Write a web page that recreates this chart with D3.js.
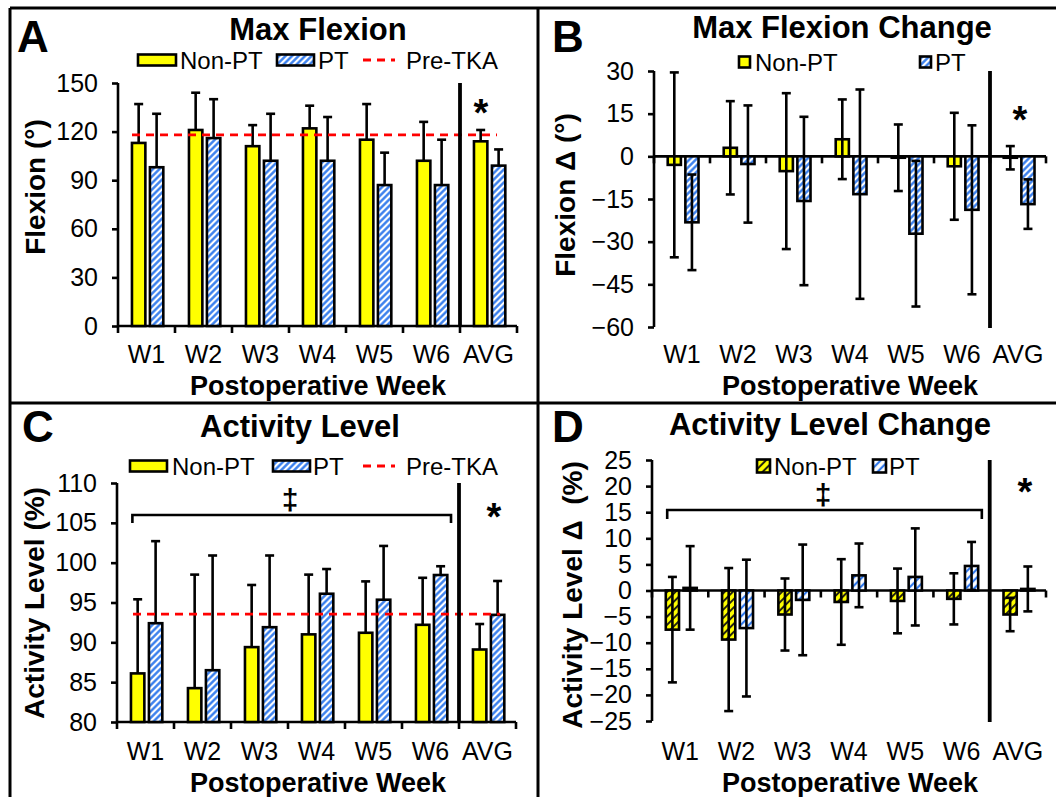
<!DOCTYPE html>
<html><head><meta charset="utf-8">
<script src="https://cdn.jsdelivr.net/npm/d3@7"></script>
<style>body{margin:0;background:#fff}svg{display:block;font-family:"Liberation Sans",Arial,sans-serif}</style>
</head><body>
<script>
// ---------------- data ----------------
const categories = ["W1","W2","W3","W4","W5","W6","AVG"];

// A: Max Flexion (deg)
const flexNonPT    = [113, 121, 111, 122, 115, 102, 114];
const flexNonPTErr = [24, 23, 13, 14, 22, 24, 7];
const flexPT       = [98, 116, 102, 102, 87, 87, 99];
const flexPTErr    = [33, 24, 29, 27, 20, 28, 10];
const flexPreTKA   = 118;
const flexTicks    = [0, 30, 60, 90, 120, 150];

// B: Max Flexion Change (deg)
const flexChgNonPT    = [-3, 3, -5.2, 6, -0.5, -3.5, -0.5];
const flexChgNonPTErr = [32.5, 16.4, 27.4, 14, 11.7, 18.8, 4.1];
const flexChgPT       = [-23.2, -2.7, -15.7, -13.3, -27.2, -18.8, -16.8];
const flexChgPTErr    = [16.8, 20.6, 29.6, 36.8, 25.6, 29.7, 8.7];
const flexChgTicks    = [-60, -45, -30, -15, 0, 15, 30];

// C: Activity Level (%)
const actNonPT    = [86.1, 84.25, 89.4, 91.0, 91.2, 92.2, 89.1];
const actNonPTErr = [9.3, 14.25, 7.8, 7.5, 6.45, 5.9, 3.2];
const actPT       = [92.4, 86.5, 91.9, 96.1, 95.35, 98.45, 93.45];
const actPTErr    = [10.3, 14.4, 9.0, 3.1, 6.75, 1.1, 4.25];
const actPreTKA   = 93.55;
const actTicks    = [80, 85, 90, 95, 100, 105, 110];

// D: Activity Level Change (%)
const actChgNonPT    = [-7.5, -9.4, -4.6, -2.2, -2.0, -1.6, -4.6];
const actChgNonPTErr = [10.1, 13.7, 6.9, 8.2, 6.2, 4.9, 3.2];
const actChgPT       = [0.5, -7.2, -1.8, 2.9, 2.6, 4.7, 0.3];
const actChgPTErr    = [8.0, 13.1, 10.6, 6.1, 9.3, 4.6, 4.3];
const actChgTicks    = [-25, -20, -15, -10, -5, 0, 5, 10, 15, 20, 25];

const seriesNames = ["Non-PT", "PT"];
const refName = "Pre-TKA";

// ---------------- drawing ----------------
const W = 1056, H = 797;
const svg = d3.select("body").append("svg").attr("width", W).attr("height", H);
const defs = svg.append("defs");

function hatch(id, bg, fg, size, sw) {
  const p = defs.append("pattern").attr("id", id).attr("patternUnits", "userSpaceOnUse")
    .attr("width", size).attr("height", size).attr("patternTransform", "rotate(45)");
  p.append("rect").attr("width", size).attr("height", size).attr("fill", bg);
  p.append("line").attr("x1", size/2).attr("x2", size/2).attr("y1", 0).attr("y2", size)
    .attr("stroke", fg).attr("stroke-width", sw);
}
hatch("blueHatch", "#ffffff", "#2f78ec", 4.6, 2.3);
hatch("blueHatchD", "#ffffff", "#2f78ec", 5.8, 2.2);
hatch("yellowHatchD", "#ffff00", "#222210", 5.8, 2.0);

const FONT = '"Liberation Sans", Arial, sans-serif';
const SW = 2.6;

const panels = [
  { letter: "A", letterPos: [17, 52], title: "Max Flexion", titlePos: [318, 40],
    xRange: [118, 517], yDomain: [0, 150], yRange: [326, 83], ticks: flexTicks, base: 0,
    non: flexNonPT, nonErr: flexNonPTErr, pt: flexPT, ptErr: flexPTErr, both: false,
    nonFill: "#ffff00", ptFill: "url(#blueHatch)", ref: flexPreTKA, refX: [132, 497],
    ylabel: "Flexion (°)", ylabelPos: [45, 187], tickY: 363, xlabelY: 395, xlabelX: 318,
    legend: { y: 60, nonBox: [138, 38], ptBox: [277, 37], nonText: 180, ptText: 318, dash: [363, 395], refText: 406 },
    star: [481, 126] },
  { letter: "B", letterPos: [552, 52], title: "Max Flexion Change", titlePos: [842, 38],
    xRange: [654, 1046], yDomain: [-60, 30], yRange: [327, 71], ticks: flexChgTicks, base: 0,
    non: flexChgNonPT, nonErr: flexChgNonPTErr, pt: flexChgPT, ptErr: flexChgPTErr, both: true,
    nonFill: "#ffff00", ptFill: "url(#blueHatch)", ref: null,
    ylabel: "Flexion Δ (°)", ylabelPos: [575, 195], tickY: 363, xlabelY: 395, xlabelX: 850,
    legend: { y: 62, nonBox: [739, 11], ptBox: [920, 11], nonText: 755, ptText: 935 },
    star: [1020, 133] },
  { letter: "C", letterPos: [22, 442], title: "Activity Level", titlePos: [300, 437],
    xRange: [117, 516], yDomain: [80, 110], yRange: [722, 483], ticks: actTicks, base: 80,
    non: actNonPT, nonErr: actNonPTErr, pt: actPT, ptErr: actPTErr, both: false,
    nonFill: "#ffff00", ptFill: "url(#blueHatch)", ref: actPreTKA, refX: [133, 500],
    ylabel: "Activity Level (%)", ylabelPos: [44, 603], tickY: 760, xlabelY: 792, xlabelX: 318,
    legend: { y: 466, nonBox: [130, 37], ptBox: [273, 37], nonText: 172, ptText: 313, dash: [363, 395], refText: 406 },
    bracket: { y: 515, drop: 8, dagger: [290, 500] },
    star: [494, 530] },
  { letter: "D", letterPos: [552, 442], title: "Activity Level Change", titlePos: [830, 435],
    xRange: [652, 1046], yDomain: [-25, 25], yRange: [721, 460], ticks: actChgTicks, base: 0,
    non: actChgNonPT, nonErr: actChgNonPTErr, pt: actChgPT, ptErr: actChgPTErr, both: true,
    nonFill: "url(#yellowHatchD)", ptFill: "url(#blueHatchD)", ref: null,
    ylabel: "Activity Level Δ  (%)", ylabelPos: [582, 595], tickY: 760, xlabelY: 792, xlabelX: 850,
    legend: { y: 466, nonBox: [757, 13], ptBox: [873, 13], nonText: 774, ptText: 889 },
    bracket: { y: 510, drop: 9, dagger: [823, 495] },
    star: [1025, 505] }
];

panels.forEach(p => {
  const g = svg.append("g");
  const x = d3.scaleBand().domain(categories).range(p.xRange).paddingInner(0).paddingOuter(0);
  const y = d3.scaleLinear().domain(p.yDomain).range(p.yRange);
  const bw = x.bandwidth();
  const barW = bw * 0.235;
  const offNon = bw * 0.245, offPT = bw * 0.56;

  // y axis
  const yAx = d3.axisLeft(y).tickValues(p.ticks).tickSize(6).tickPadding(14).tickFormat(d3.format("d"));
  const yg = g.append("g").attr("transform", `translate(${p.xRange[0]},0)`).call(yAx);
  yg.select(".domain").attr("stroke", "#000").attr("stroke-width", SW).attr("d", `M0,${p.yRange[0]}V${p.yRange[1]}`);
  yg.selectAll(".tick line").attr("stroke", "#000").attr("stroke-width", SW);
  yg.selectAll(".tick text").attr("font-size", 25).attr("font-family", FONT).attr("fill", "#000");

  // x axis at baseline
  const y0 = y(p.base);
  const boundaries = categories.map(c => x(c)).concat([p.xRange[1]]);
  g.append("line").attr("x1", p.xRange[0]).attr("x2", p.xRange[1]).attr("y1", y0).attr("y2", y0)
    .attr("stroke", "#000").attr("stroke-width", SW);
  g.selectAll(".xtick").data(boundaries).enter().append("line")
    .attr("x1", d => d).attr("x2", d => d).attr("y1", y0).attr("y2", y0 + 7)
    .attr("stroke", "#000").attr("stroke-width", SW);
  g.selectAll(".xlab").data(categories).enter().append("text")
    .attr("x", d => x(d) + bw / 2).attr("y", p.tickY).attr("text-anchor", "middle")
    .attr("font-size", 25).attr("font-family", FONT).text(d => d);

  // bars
  function bars(vals, off, fill) {
    g.selectAll(null).data(vals).enter().append("rect")
      .attr("x", (d, i) => x(categories[i]) + off)
      .attr("y", d => Math.min(y(d), y0))
      .attr("width", barW)
      .attr("height", d => Math.max(Math.abs(y(d) - y0), 1))
      .attr("fill", fill).attr("stroke", "#000").attr("stroke-width", SW);
  }
  bars(p.non, offNon, p.nonFill);
  bars(p.pt, offPT, p.ptFill);

  // error bars
  function errs(vals, es, off) {
    vals.forEach((v, i) => {
      const cx = x(categories[i]) + off + barW / 2;
      const top = y(v + es[i]);
      const bot = p.both ? y(v - es[i]) : y(v);
      g.append("line").attr("x1", cx).attr("x2", cx).attr("y1", top).attr("y2", bot)
        .attr("stroke", "#000").attr("stroke-width", SW);
      g.append("line").attr("x1", cx - 4.5).attr("x2", cx + 4.5).attr("y1", top).attr("y2", top)
        .attr("stroke", "#000").attr("stroke-width", SW);
      if (p.both) g.append("line").attr("x1", cx - 4.5).attr("x2", cx + 4.5).attr("y1", bot).attr("y2", bot)
        .attr("stroke", "#000").attr("stroke-width", SW);
    });
  }
  errs(p.non, p.nonErr, offNon);
  errs(p.pt, p.ptErr, offPT);

  // reference line
  if (p.ref !== null) {
    g.append("line").attr("x1", p.refX[0]).attr("x2", p.refX[1]).attr("y1", y(p.ref)).attr("y2", y(p.ref))
      .attr("stroke", "#ff0000").attr("stroke-width", 2.8).attr("stroke-dasharray", "8,6");
  }

  // separator before AVG
  const sx = x("AVG");
  g.append("line").attr("x1", sx).attr("x2", sx).attr("y1", p.yRange[1]).attr("y2", p.yRange[0] + 1)
    .attr("stroke", "#000").attr("stroke-width", 3.8);

  // bracket + dagger
  if (p.bracket) {
    const bx0 = x("W1") + bw * 0.27, bx1 = x("W6") + bw * 0.86;
    const b = p.bracket;
    g.append("path").attr("d", `M${bx0},${b.y + b.drop}V${b.y}H${bx1}V${b.y + b.drop}`)
      .attr("fill", "none").attr("stroke", "#000").attr("stroke-width", SW);
    g.append("text").attr("x", b.dagger[0]).attr("y", b.dagger[1] + 10).attr("text-anchor", "middle")
      .attr("font-size", 30).attr("font-weight", "bold").attr("font-family", FONT).text("‡");
  }

  // star
  g.append("text").attr("x", p.star[0]).attr("y", p.star[1]).attr("text-anchor", "middle")
    .attr("font-size", 38).attr("font-weight", "bold").attr("font-family", FONT).text("*");

  // titles
  g.append("text").attr("x", p.titlePos[0]).attr("y", p.titlePos[1]).attr("text-anchor", "middle")
    .attr("font-size", 31).attr("font-weight", "bold").attr("font-family", FONT).text(p.title);
  g.append("text").attr("x", p.letterPos[0]).attr("y", p.letterPos[1])
    .attr("font-size", 44).attr("font-weight", "bold").attr("font-family", FONT).text(p.letter);
  g.append("text").attr("transform", `translate(${p.ylabelPos[0]},${p.ylabelPos[1]}) rotate(-90)`)
    .attr("text-anchor", "middle").attr("font-size", 28).attr("font-weight", "bold")
    .attr("font-family", FONT).attr("xml:space", "preserve").style("white-space", "pre").text(p.ylabel);
  g.append("text").attr("x", p.xlabelX).attr("y", p.xlabelY).attr("text-anchor", "middle")
    .attr("font-size", 27).attr("font-weight", "bold").attr("font-family", FONT).text("Postoperative Week");

  // legend
  const L = p.legend;
  const bh = L.nonBox[1] > 20 ? 11 : L.nonBox[1];
  g.append("rect").attr("x", L.nonBox[0]).attr("y", L.y - bh / 2).attr("width", L.nonBox[1]).attr("height", bh)
    .attr("fill", p.nonFill).attr("stroke", "#000").attr("stroke-width", SW);
  g.append("rect").attr("x", L.ptBox[0]).attr("y", L.y - bh / 2).attr("width", L.ptBox[1]).attr("height", bh)
    .attr("fill", p.ptFill).attr("stroke", "#000").attr("stroke-width", SW);
  g.append("text").attr("x", L.nonText).attr("y", L.y + 8.5).attr("font-size", 24).attr("font-family", FONT).text(seriesNames[0]);
  g.append("text").attr("x", L.ptText).attr("y", L.y + 8.5).attr("font-size", 24).attr("font-family", FONT).text(seriesNames[1]);
  if (L.dash) {
    g.append("line").attr("x1", L.dash[0]).attr("x2", L.dash[1]).attr("y1", L.y).attr("y2", L.y)
      .attr("stroke", "#ff0000").attr("stroke-width", 2.8).attr("stroke-dasharray", "8,6");
    g.append("text").attr("x", L.refText).attr("y", L.y + 8.5).attr("font-size", 24).attr("font-family", FONT).text(refName);
  }
});

// panel frame lines
const frame = svg.append("g").attr("stroke", "#000").attr("stroke-width", 3);
frame.append("line").attr("x1", 10).attr("x2", W).attr("y1", 8).attr("y2", 8);
frame.append("line").attr("x1", 10).attr("x2", 10).attr("y1", 8).attr("y2", H);
frame.append("line").attr("x1", 10).attr("x2", W).attr("y1", 403).attr("y2", 403);
frame.append("line").attr("x1", 538).attr("x2", 538).attr("y1", 8).attr("y2", H);
</script>
</body></html>
